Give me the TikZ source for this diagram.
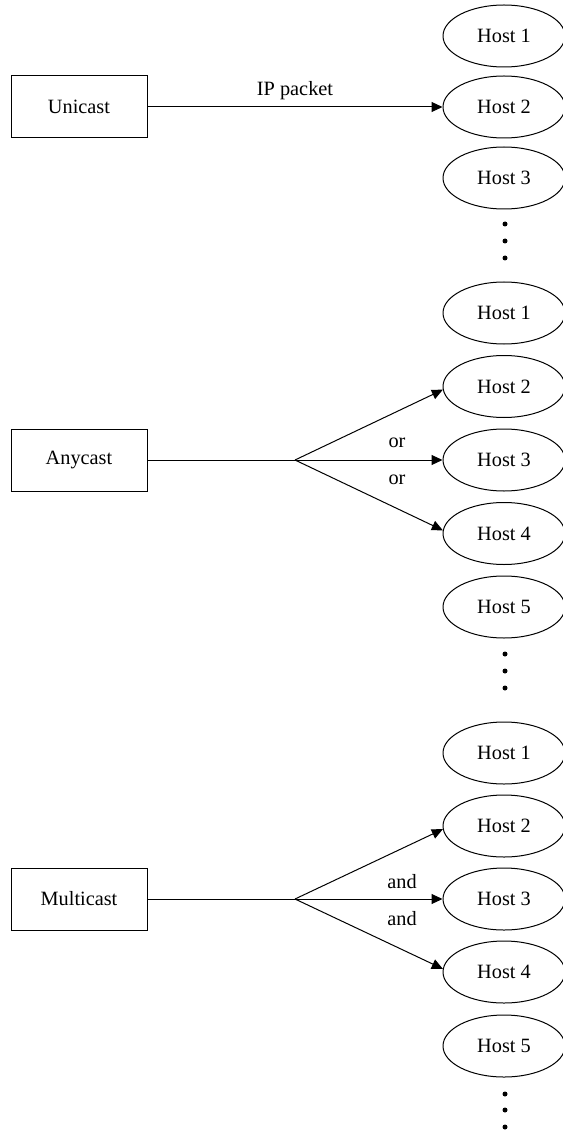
\documentclass[tikz,border=0pt]{standalone}
\usepackage{fontspec}
\setmainfont{Liberation Serif}
\usetikzlibrary{arrows.meta,shapes.geometric}
\begin{document}
\begin{tikzpicture}[x=1pt,y=-1pt,
  box/.style={draw,line width=1pt,minimum width=136pt,minimum height=62pt,inner sep=0pt},
  host/.style={draw,ellipse,line width=1pt,minimum width=122pt,minimum height=62pt,inner sep=0pt},
  conn/.style={line width=1pt},
  arr/.style={line width=1pt,-{Triangle[length=11pt,width=10pt]}},
  lbl/.style={inner sep=0pt},
  dot/.style={circle,fill,inner sep=0pt,minimum size=5pt},
  font=\fontsize{20.3}{23}\selectfont]
\useasboundingbox (0,0) rectangle (562,1131);

% Unicast
\node[box] (uni) at (79,107) {Unicast};
\node[host] (u1) at (504,36) {Host 1};
\node[host] (u2) at (504,107) {Host 2};
\node[host] (u3) at (504,178) {Host 3};
\node[dot] (ud1) at (505,224) {};
\node[dot] (ud2) at (505,241) {};
\node[dot] (ud3) at (505,258) {};
\draw[arr] (uni) -- (u2);
\node[lbl] (ipl) at (295,91) {IP packet};

% Anycast
\node[box] (any) at (79,460) {Anycast};
\coordinate (ab) at (295,460);
\node[host] (a1) at (504,313) {Host 1};
\node[host] (a2) at (504,386.5) {Host 2};
\node[host] (a3) at (504,460) {Host 3};
\node[host] (a4) at (504,533.5) {Host 4};
\node[host] (a5) at (504,607) {Host 5};
\node[dot] (ad1) at (505,654) {};
\node[dot] (ad2) at (505,671) {};
\node[dot] (ad3) at (505,688) {};
\draw[conn] (any.east) -- (ab);
\draw[arr] (ab) -- (a2.183);
\draw[arr] (ab) -- (a3);
\draw[arr] (ab) -- (a4.177);
\node[lbl] (or1) at (397,443) {or};
\node[lbl] (or2) at (397,480) {or};

% Multicast
\node[box] (mul) at (79,899) {Multicast};
\coordinate (mb) at (295,899);
\node[host] (m1) at (504,753) {Host 1};
\node[host] (m2) at (504,826) {Host 2};
\node[host] (m3) at (504,899) {Host 3};
\node[host] (m4) at (504,972) {Host 4};
\node[host] (m5) at (504,1046) {Host 5};
\node[dot] (md1) at (505,1094) {};
\node[dot] (md2) at (505,1110) {};
\node[dot] (md3) at (505,1127) {};
\draw[conn] (mul.east) -- (mb);
\draw[arr] (mb) -- (m2.183);
\draw[arr] (mb) -- (m3);
\draw[arr] (mb) -- (m4.177);
\node[lbl] (and1) at (402,882) {and};
\node[lbl] (and2) at (402,919) {and};
\end{tikzpicture}
\end{document}
